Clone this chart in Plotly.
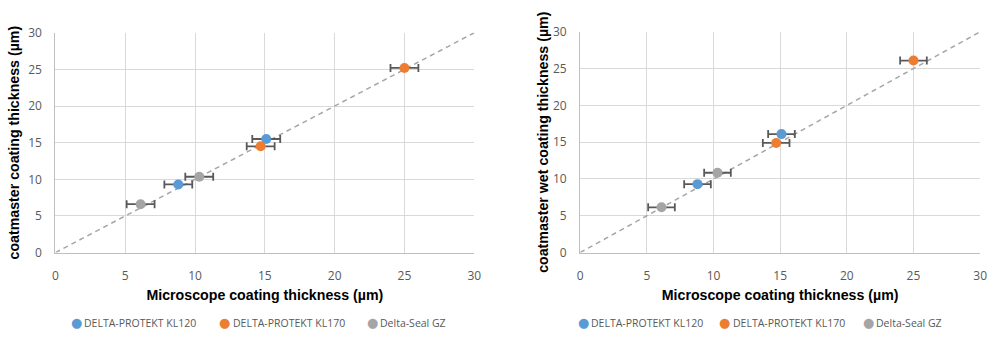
import plotly.graph_objects as go

series_names = ["DELTA-PROTEKT KL120", "DELTA-PROTEKT KL170", "Delta-Seal GZ"]
colors = ["#5B9BD5", "#ED7D31", "#A5A5A5"]

# Left chart: coatmaster vs microscope
left_x = {"DELTA-PROTEKT KL120": [8.8, 15.1], "DELTA-PROTEKT KL170": [14.7, 25.0], "Delta-Seal GZ": [6.1, 10.3]}
left_y = {"DELTA-PROTEKT KL120": [9.3, 15.5], "DELTA-PROTEKT KL170": [14.5, 25.2], "Delta-Seal GZ": [6.6, 10.35]}
# Right chart: coatmaster wet vs microscope
right_x = {"DELTA-PROTEKT KL120": [8.8, 15.1], "DELTA-PROTEKT KL170": [14.7, 25.0], "Delta-Seal GZ": [6.1, 10.3]}
right_y = {"DELTA-PROTEKT KL120": [9.3, 16.1], "DELTA-PROTEKT KL170": [14.9, 26.1], "Delta-Seal GZ": [6.15, 10.85]}
x_err = 1.0
diag = [0, 30]
ticks = [0, 5, 10, 15, 20, 25, 30]

x_title = "Microscope coating thickness (µm)"
y_title_left = "coatmaster coating thickness (µm)"
y_title_right = "coatmaster wet coating thickness (µm)"

fig = go.Figure()

def add_panel(xs, ys, xa, ya):
    fig.add_trace(go.Scatter(x=diag, y=diag, mode="lines", xaxis=xa, yaxis=ya,
                             line=dict(color="#A6A6A6", width=1.5, dash="5px,4px"),
                             showlegend=False, hoverinfo="skip"))
    for name, c in zip(series_names, colors):
        fig.add_trace(go.Scatter(
            x=xs[name], y=ys[name], mode="markers", name=name, xaxis=xa, yaxis=ya,
            showlegend=False,
            marker=dict(color=c, size=10),
            error_x=dict(type="constant", value=x_err, color="#595959", thickness=1.8, width=4),
        ))

add_panel(left_x, left_y, "x", "y")
add_panel(right_x, right_y, "x2", "y2")

tickfont = dict(family="Open Sans, Liberation Sans, Arial", size=12, color="#595959")
titlefont = dict(family="Liberation Sans, Arial", size=14.2, color="#000000")
legfont = dict(family="Open Sans, Liberation Sans, Arial", size=10.5, color="#595959")

ax_common = dict(range=[0, 30], tickvals=ticks, showgrid=True, gridcolor="#D9D9D9", gridwidth=1,
                 zeroline=False, showline=True, linecolor="#BFBFBF", linewidth=1.2,
                 tickfont=tickfont, ticks="", fixedrange=True)

# Legend rows built as annotations (marker glyph + label)
legend_y = 1 - 330 / 350
legend_marker_x = {"left": [0.074, 0.224, 0.373], "right": [0.586, 0.729, 0.874]}
annotations = []
for side in ["left", "right"]:
    for name, c, mx in zip(series_names, colors, legend_marker_x[side]):
        annotations.append(dict(text="●", x=mx, y=legend_y, xref="paper", yref="paper",
                                xanchor="center", yanchor="middle", showarrow=False,
                                font=dict(family="DejaVu Sans", size=13, color=c)))
        annotations.append(dict(text=name, x=mx + 0.006, y=legend_y, xref="paper", yref="paper",
                                xanchor="left", yanchor="middle", showarrow=False, font=legfont))

fig.update_layout(
    width=1000, height=350,
    margin=dict(l=0, r=0, t=0, b=0),
    paper_bgcolor="white", plot_bgcolor="white",
    xaxis=dict(domain=[0.053, 0.476], anchor="y", ticklabelstandoff=12,
               title=dict(text="<b>" + x_title + "</b>", font=titlefont, standoff=6), **ax_common),
    yaxis=dict(domain=[1 - 256 / 350, 1 - 25 / 350], anchor="x", ticklabelstandoff=10,
               title=dict(text="<b>" + y_title_left + "</b>", font=titlefont, standoff=5), **ax_common),
    xaxis2=dict(domain=[0.583, 0.987], anchor="y2", ticklabelstandoff=12,
                title=dict(text="<b>" + x_title + "</b>", font=titlefont, standoff=6), **ax_common),
    yaxis2=dict(domain=[1 - 256 / 350, 1 - 24 / 350], anchor="x2", ticklabelstandoff=10,
                title=dict(text="<b>" + y_title_right + "</b>", font=titlefont, standoff=0), **ax_common),
    annotations=annotations,
    showlegend=False,
)

fig.write_html("out.html")
